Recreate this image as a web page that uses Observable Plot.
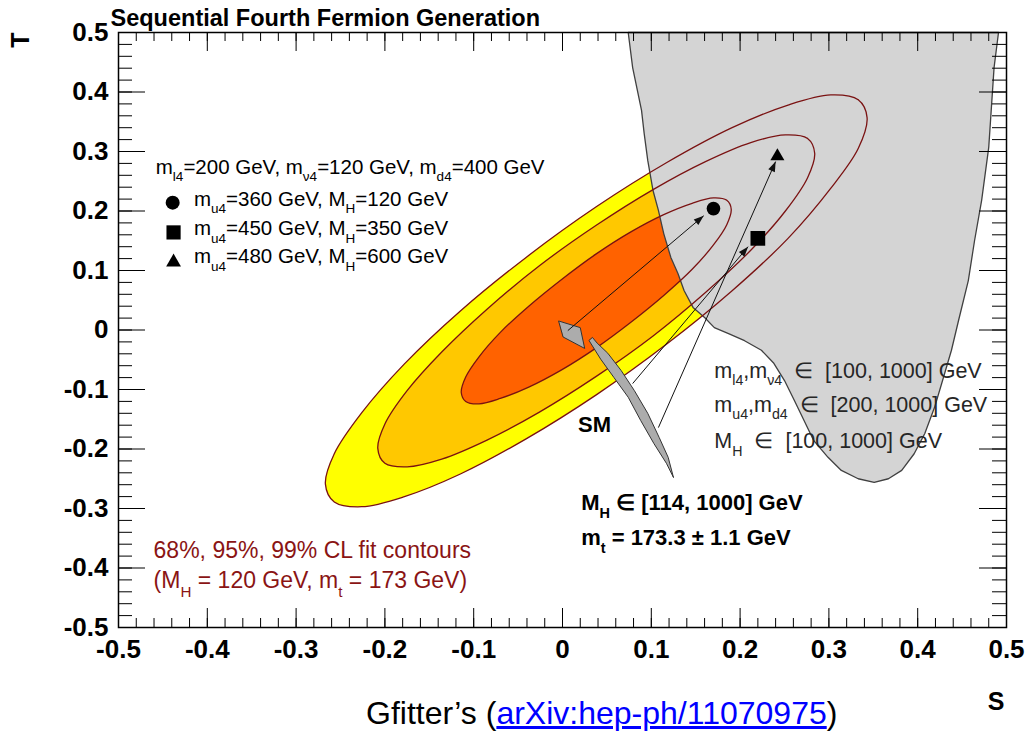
<!DOCTYPE html>
<html>
<head>
<meta charset="utf-8">
<script src="https://cdn.jsdelivr.net/npm/d3@7"></script>
<script src="https://cdn.jsdelivr.net/npm/@observablehq/plot@0.6"></script>
<style>
  body { margin: 0; background: #fff; }
  #wrap { position: relative; width: 1027px; height: 735px; overflow: hidden; }
  #caption { position: absolute; top: 695px; left: 366px; white-space: nowrap;
    font-family: "Liberation Sans", Arial, sans-serif; font-size: 32px; color: #000; }
  #caption a { color: #0000ff; text-decoration: underline; }
</style>
</head>
<body>
<div id="wrap">
  <div id="chart"></div>
  <div id="caption">Gfitter’s (<a href="#">arXiv:hep-ph/11070975</a>)</div>
</div>
<script>
// ---------------- data (S, T) ----------------
const sTicks = [-0.5, -0.4, -0.3, -0.2, -0.1, 0, 0.1, 0.2, 0.3, 0.4, 0.5];
const tTicks = [-0.5, -0.4, -0.3, -0.2, -0.1, 0, 0.1, 0.2, 0.3, 0.4, 0.5];

// 99% CL contour (outer)
const contour99 = [
  [0.343,0.357],[0.333,0.387],[0.302,0.395],[0.254,0.378],[0.191,0.340],[0.117,0.281],
  [0.038,0.207],[-0.041,0.122],[-0.115,0.032],[-0.178,-0.057],[-0.226,-0.139],[-0.257,-0.208],
  [-0.267,-0.259],[-0.257,-0.289],[-0.226,-0.297],[-0.178,-0.280],[-0.115,-0.242],[-0.041,-0.183],
  [0.038,-0.109],[0.117,-0.024],[0.191,0.066],[0.254,0.154],[0.302,0.238],[0.333,0.305]
];
// 95% CL contour
const contour95 = [
  [0.284,0.297],[0.276,0.322],[0.251,0.328],[0.212,0.315],[0.161,0.283],[0.102,0.236],
  [0.038,0.176],[-0.026,0.108],[-0.085,0.035],[-0.136,-0.037],[-0.175,-0.102],[-0.200,-0.158],
  [-0.208,-0.199],[-0.200,-0.224],[-0.175,-0.230],[-0.136,-0.217],[-0.085,-0.185],[-0.026,-0.138],
  [0.038,-0.078],[0.102,-0.010],[0.161,0.063],[0.212,0.134],[0.251,0.200],[0.276,0.256]
];
// 68% CL contour (inner)
const contour68 = [
  [0.190,0.203],[0.185,0.218],[0.170,0.222],[0.146,0.213],[0.114,0.194],[0.077,0.165],
  [0.038,0.128],[-0.001,0.085],[-0.038,0.040],[-0.070,-0.004],[-0.094,-0.045],[-0.109,-0.079],
  [-0.114,-0.105],[-0.109,-0.120],[-0.094,-0.124],[-0.070,-0.115],[-0.038,-0.096],[-0.001,-0.067],
  [0.038,-0.030],[0.077,0.013],[0.114,0.058],[0.146,0.102],[0.170,0.143],[0.185,0.177]
];

// allowed region of the sequential fourth generation scan
const region4G = [
  [0.074,0.500],[0.079,0.441],[0.089,0.369],[0.092,0.330],[0.096,0.285],[0.102,0.234],
  [0.108,0.201],[0.114,0.162],[0.122,0.122],[0.130,0.095],[0.137,0.066],[0.147,0.038],
  [0.160,0.021],[0.171,0.004],[0.187,-0.006],[0.205,-0.018],[0.224,-0.034],[0.238,-0.056],
  [0.250,-0.085],[0.261,-0.118],[0.272,-0.152],[0.283,-0.186],[0.299,-0.214],[0.314,-0.236],
  [0.333,-0.250],[0.351,-0.256],[0.367,-0.250],[0.382,-0.236],[0.396,-0.208],[0.408,-0.174],
  [0.419,-0.130],[0.427,-0.090],[0.438,-0.034],[0.446,0.016],[0.457,0.083],[0.464,0.150],
  [0.472,0.218],[0.480,0.307],[0.483,0.374],[0.486,0.441],[0.491,0.500]
];

// SM prediction (M_H in [114,1000] GeV)
const smCap = [[-0.004,0.015],[0.020,0.004],[0.025,-0.031],[0.001,-0.012]];
const smBand = [
  [0.030,-0.018],[0.043,-0.049],[0.058,-0.080],[0.074,-0.113],[0.088,-0.152],[0.103,-0.191],
  [0.117,-0.224],[0.125,-0.248],[0.119,-0.214],[0.109,-0.181],[0.096,-0.140],[0.081,-0.102],
  [0.066,-0.068],[0.051,-0.039],[0.039,-0.022],[0.034,-0.013]
];

// fourth generation benchmark points
const circlePts   = [{S: 0.170, T: 0.204}];
const squarePts   = [{S: 0.220, T: 0.154}];
const trianglePts = [{S: 0.242, T: 0.292}];

// arrows from SM to the benchmark points
const arrows = [
  {S1: 0.006, T1: -0.001, S2: 0.159, T2: 0.192},
  {S1: 0.079, T1: -0.090, S2: 0.209, T2: 0.140},
  {S1: 0.108, T1: -0.164, S2: 0.240, T2: 0.283}
];

// legend
const legendHeader = [{S: -0.458, T: 0.263, label: "m_{l4}=200 GeV, m_{ν4}=120 GeV, m_{d4}=400 GeV"}];
const legendRows = [
  {S: -0.415, T: 0.209, label: "m_{u4}=360 GeV, M_{H}=120 GeV"},
  {S: -0.415, T: 0.159, label: "m_{u4}=450 GeV, M_{H}=350 GeV"},
  {S: -0.415, T: 0.112, label: "m_{u4}=480 GeV, M_{H}=600 GeV"}
];
const legendCircle   = [{S: -0.439, T: 0.214}];
const legendSquare   = [{S: -0.438, T: 0.164}];
const legendTriangle = [{S: -0.438, T: 0.114}];

const scanNotes = [
  {S: 0.171, T: -0.080, label: "m_{l4},m_{ν4}  ∈  [100, 1000] GeV"},
  {S: 0.171, T: -0.137, label: "m_{u4},m_{d4}  ∈  [200, 1000] GeV"},
  {S: 0.171, T: -0.198, label: "M_{H}  ∈  [100, 1000] GeV"}
];
const smNotes = [
  {S: 0.021, T: -0.303, label: "M_{H} ∈ [114, 1000] GeV"},
  {S: 0.021, T: -0.361, label: "m_{t} = 173.3 ± 1.1 GeV"}
];
const smLabel = [{S: 0.0175, T: -0.171, label: "SM"}];
const clNotes = [
  {S: -0.4605, T: -0.384, label: "68%, 95%, 99% CL fit contours"},
  {S: -0.4605, T: -0.434, label: "(M_{H} = 120 GeV, m_{t} = 173 GeV)"}
];
const titleText = "Sequential Fourth Fermion Generation";
const xLabel = "S";
const yLabel = "T";

// ---------------- chart ----------------
const FONT = "'Liberation Sans', Arial, Helvetica, sans-serif";
const W = 887, H = 595;                 // frame size in px
const minor = d3.range(-50, 51, 2).map(i => i / 100);
const fmt = d => d === 0 ? "0" : String(d);
const px = d => d[0], py = d => d[1];
const CONTOUR = "#7a1212";

const chart = Plot.plot({
  width: 1027, height: 735,
  marginLeft: 118, marginRight: 21, marginTop: 32, marginBottom: 108,
  x: {domain: [-0.5, 0.5], axis: null},
  y: {domain: [-0.5, 0.5], axis: null},
  style: {fontFamily: FONT, background: "white"},
  marks: [
    // filled CL contours
    Plot.line(contour99, {x: px, y: py, curve: "catmull-rom-closed", fill: "#ffff00", stroke: "none"}),
    Plot.line(contour95, {x: px, y: py, curve: "catmull-rom-closed", fill: "#ffc800", stroke: "none"}),
    Plot.line(contour68, {x: px, y: py, curve: "catmull-rom-closed", fill: "#ff6200", stroke: "none"}),
    // 4th generation region
    Plot.line(region4G, {x: px, y: py, curve: "linear-closed", fill: "#d4d4d4", stroke: "#404040", strokeWidth: 1.3}),
    // contour outlines
    Plot.line(contour99, {x: px, y: py, curve: "catmull-rom-closed", stroke: CONTOUR, strokeWidth: 1.3}),
    Plot.line(contour95, {x: px, y: py, curve: "catmull-rom-closed", stroke: CONTOUR, strokeWidth: 1.3}),
    Plot.line(contour68, {x: px, y: py, curve: "catmull-rom-closed", stroke: CONTOUR, strokeWidth: 1.3}),
    // SM band
    Plot.line(smCap, {x: px, y: py, curve: "linear-closed", fill: "#acacac", stroke: "#333", strokeWidth: 1}),
    Plot.line(smBand, {x: px, y: py, curve: "linear-closed", fill: "#acacac", stroke: "#333", strokeWidth: 1}),
    // arrows
    Plot.link(arrows, {x1: "S1", y1: "T1", x2: "S2", y2: "T2", stroke: "#111", strokeWidth: 1, markerEnd: "arrow"}),
    // benchmark points
    Plot.dot(circlePts, {x: "S", y: "T", symbol: "circle", r: 6.8, fill: "black", stroke: "none"}),
    Plot.dot(squarePts, {x: "S", y: "T", symbol: "square", r: 8.3, fill: "black", stroke: "none"}),
    Plot.dot(trianglePts, {x: "S", y: "T", symbol: "triangle", r: 5.2, fill: "black", stroke: "none"}),
    // legend symbols
    Plot.dot(legendCircle, {x: "S", y: "T", symbol: "circle", r: 7, fill: "black", stroke: "none"}),
    Plot.dot(legendSquare, {x: "S", y: "T", symbol: "square", r: 8, fill: "black", stroke: "none"}),
    Plot.dot(legendTriangle, {x: "S", y: "T", symbol: "triangle", r: 5.5, fill: "black", stroke: "none"}),
    // texts
    Plot.text(legendHeader, {x: "S", y: "T", text: "label", textAnchor: "start", lineAnchor: "bottom", fontSize: 20.5, fill: "#000"}),
    Plot.text(legendRows, {x: "S", y: "T", text: "label", textAnchor: "start", lineAnchor: "bottom", fontSize: 20.5, fill: "#000"}),
    Plot.text(scanNotes, {x: "S", y: "T", text: "label", textAnchor: "start", lineAnchor: "bottom", fontSize: 21.5, fill: "#262626"}),
    Plot.text(smNotes, {x: "S", y: "T", text: "label", textAnchor: "start", lineAnchor: "bottom", fontSize: 22, fontWeight: "bold", fill: "#000"}),
    Plot.text(smLabel, {x: "S", y: "T", text: "label", textAnchor: "start", lineAnchor: "bottom", fontSize: 22, fontWeight: "bold", fill: "#000"}),
    Plot.text(clNotes, {x: "S", y: "T", text: "label", textAnchor: "start", lineAnchor: "bottom", fontSize: 23, fill: "#8a1414"}),
    // ticks (inside the frame on all four sides)
    Plot.tickX(minor, {x: d => d, insetTop: H - 9, stroke: "black", strokeWidth: 1}),
    Plot.tickX(minor, {x: d => d, insetBottom: H - 9, stroke: "black", strokeWidth: 1}),
    Plot.tickX(sTicks, {x: d => d, insetTop: H - 19, stroke: "black", strokeWidth: 1}),
    Plot.tickX(sTicks, {x: d => d, insetBottom: H - 19, stroke: "black", strokeWidth: 1}),
    Plot.tickY(minor, {y: d => d, insetRight: W - 13, stroke: "black", strokeWidth: 1}),
    Plot.tickY(minor, {y: d => d, insetLeft: W - 13, stroke: "black", strokeWidth: 1}),
    Plot.tickY(tTicks, {y: d => d, insetRight: W - 26, stroke: "black", strokeWidth: 1}),
    Plot.tickY(tTicks, {y: d => d, insetLeft: W - 26, stroke: "black", strokeWidth: 1}),
    Plot.frame({stroke: "black", strokeWidth: 1.5}),
    // tick labels
    Plot.text(sTicks, {x: d => d, text: fmt, frameAnchor: "bottom", lineAnchor: "top", dy: 12, fontSize: 26, fontWeight: "bold", fill: "#000"}),
    Plot.text(tTicks, {y: d => d, text: fmt, frameAnchor: "left", textAnchor: "end", dx: -10, fontSize: 26, fontWeight: "bold", fill: "#000"}),
    // title and axis labels
    Plot.text([titleText], {text: d => d, frameAnchor: "top-left", textAnchor: "start", lineAnchor: "bottom", dx: -8, dy: -7, fontSize: 23.5, fontWeight: "bold", fill: "#000"}),
    Plot.text([yLabel], {text: d => d, frameAnchor: "top-left", fontSize: 25, fontWeight: "bold", fill: "#000"}),
    Plot.text([xLabel], {text: d => d, frameAnchor: "bottom-right", dx: -2, dy: 82, fontSize: 25, fontWeight: "bold", fill: "#000"})
  ]
});

document.getElementById("chart").appendChild(chart);

// filled arrow heads
const NS = "http://www.w3.org/2000/svg";
chart.querySelectorAll("marker").forEach(mk => {
  const c = mk.getAttribute("stroke") || "#111";
  mk.setAttribute("viewBox", "-11 -5 12 10");
  mk.setAttribute("markerWidth", 12);
  mk.setAttribute("markerHeight", 10);
  mk.setAttribute("markerUnits", "userSpaceOnUse");
  mk.setAttribute("fill", c === "currentColor" ? "#111" : c);
  mk.setAttribute("stroke", "none");
  while (mk.firstChild) mk.removeChild(mk.firstChild);
  const p = document.createElementNS(NS, "path");
  p.setAttribute("d", "M-10,-3.6L0,0L-10,3.6Z");
  mk.appendChild(p);
});

// vertical axis label: ROOT style, rotated, at the top-left corner outside the tick labels
chart.querySelectorAll("text").forEach(t => {
  if (t.textContent === yLabel) {
    if (t.parentNode && t.parentNode.removeAttribute) t.parentNode.removeAttribute("transform");
    t.removeAttribute("x"); t.removeAttribute("dx"); t.removeAttribute("dy");
    t.setAttribute("text-anchor", "middle");
    t.setAttribute("y", "0.35em");
    t.setAttribute("transform", "translate(20,40) rotate(-90)");
  }
});

// subscripts written as _{...}
chart.querySelectorAll("text").forEach(t => {
  const s = t.textContent;
  if (!s.includes("_{")) return;
  const fs = parseFloat(getComputedStyle(t).fontSize) || 20;
  while (t.firstChild) t.removeChild(t.firstChild);
  const re = /_\{([^}]*)\}/g;
  let last = 0, m, shifted = false;
  const add = (txt, sub) => {
    const ts = document.createElementNS(NS, "tspan");
    ts.textContent = txt;
    if (sub) { ts.setAttribute("font-size", (fs * 0.66).toFixed(1)); ts.setAttribute("dy", (fs * 0.36).toFixed(1)); shifted = true; }
    else if (shifted) { ts.setAttribute("dy", (-fs * 0.36).toFixed(1)); shifted = false; }
    t.appendChild(ts);
  };
  while ((m = re.exec(s))) {
    if (m.index > last) add(s.slice(last, m.index), false);
    add(m[1], true);
    last = re.lastIndex;
  }
  if (last < s.length) add(s.slice(last), false);
});
</script>
</body>
</html>
